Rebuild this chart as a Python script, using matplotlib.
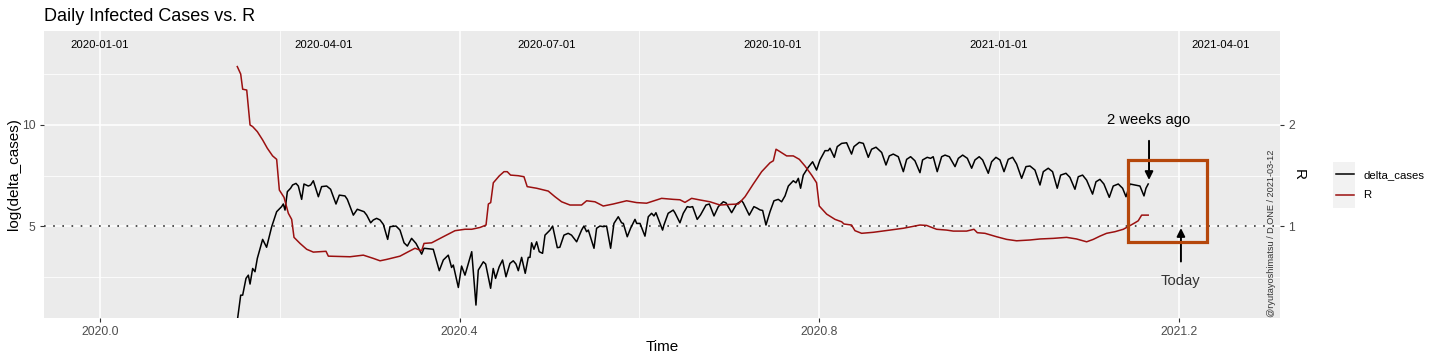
import matplotlib
matplotlib.use("Agg")
import matplotlib.pyplot as plt
from matplotlib.lines import Line2D
from matplotlib.patches import Rectangle

plt.rcParams['font.family'] = ['Liberation Sans', 'DejaVu Sans']

# daily infected cases (log), time as decimal year
case_t = [
    2020.1527, 2020.1565, 2020.1587, 2020.1624, 2020.1650, 2020.1669, 2020.1698, 2020.1724,
    2020.1750, 2020.1809, 2020.1853, 2020.1910, 2020.1965, 2020.2020, 2020.2039, 2020.2058,
    2020.2084, 2020.2120, 2020.2142, 2020.2180, 2020.2206, 2020.2243, 2020.2269, 2020.2317,
    2020.2343, 2020.2373, 2020.2429, 2020.2465, 2020.2521, 2020.2565, 2020.2625, 2020.2662,
    2020.2725, 2020.2751, 2020.2818, 2020.2862, 2020.2937, 2020.2967, 2020.3011, 2020.3040,
    2020.3077, 2020.3115, 2020.3152, 2020.3200, 2020.3226, 2020.3293, 2020.3337, 2020.3382,
    2020.3419, 2020.3466, 2020.3515, 2020.3578, 2020.3604, 2020.3707, 2020.3774, 2020.3819,
    2020.3874, 2020.3911, 2020.3930, 2020.3986, 2020.4022, 2020.4060, 2020.4135, 2020.4182,
    2020.4208, 2020.4264, 2020.4290, 2020.4345, 2020.4374, 2020.4400, 2020.4440, 2020.4478,
    2020.4516, 2020.4560, 2020.4597, 2020.4627, 2020.4653, 2020.4690, 2020.4730, 2020.4764,
    2020.4783, 2020.4801, 2020.4827, 2020.4857, 2020.4886, 2020.4923, 2020.4950, 2020.5006,
    2020.5035, 2020.5087, 2020.5115, 2020.5161, 2020.5208, 2020.5245, 2020.5302, 2020.5357,
    2020.5383, 2020.5413, 2020.5432, 2020.5495, 2020.5524, 2020.5561, 2020.5598, 2020.5635,
    2020.5680, 2020.5717, 2020.5765, 2020.5802, 2020.5821, 2020.5865, 2020.5902, 2020.5951,
    2020.5970, 2020.6007, 2020.6062, 2020.6099, 2020.6136, 2020.6162, 2020.6184, 2020.6229,
    2020.6258, 2020.6273, 2020.6320, 2020.6376, 2020.6395, 2020.6451, 2020.6488, 2020.6532,
    2020.6562, 2020.6592, 2020.6643, 2020.6680, 2020.6741, 2020.6778, 2020.6830, 2020.6878,
    2020.6933, 2020.6963, 2020.7026, 2020.7081, 2020.7137, 2020.7155, 2020.7222, 2020.7274,
    2020.7311, 2020.7341, 2020.7371, 2020.7408, 2020.7453, 2020.7497, 2020.7545, 2020.7582,
    2020.7620, 2020.7657, 2020.7712, 2020.7742, 2020.7768, 2020.7793, 2020.7823, 2020.7879,
    2020.7927, 2020.7971, 2020.8009, 2020.8065, 2020.8101, 2020.8120, 2020.8168, 2020.8201,
    2020.8250, 2020.8305, 2020.8360, 2020.8387, 2020.8446, 2020.8491, 2020.8546, 2020.8583,
    2020.8632, 2020.8695, 2020.8743, 2020.8780, 2020.8824, 2020.8880, 2020.8936, 2020.8973,
    2020.9017, 2020.9065, 2020.9121, 2020.9150, 2020.9202, 2020.9239, 2020.9268, 2020.9313,
    2020.9362, 2020.9400, 2020.9448, 2020.9511, 2020.9548, 2020.9596, 2020.9648, 2020.9696,
    2020.9733, 2020.9780, 2020.9818, 2020.9881, 2020.9918, 2020.9966, 2021.0011, 2021.0056,
    2021.0103, 2021.0152, 2021.0196, 2021.0252, 2021.0300, 2021.0345, 2021.0400, 2021.0456,
    2021.0493, 2021.0548, 2021.0596, 2021.0648, 2021.0686, 2021.0745, 2021.0789, 2021.0845,
    2021.0882, 2021.0930, 2021.0975, 2021.1041, 2021.1079, 2021.1123, 2021.1167, 2021.1227,
    2021.1271, 2021.1327, 2021.1375, 2021.1413, 2021.1457, 2021.1513, 2021.1568, 2021.1613,
    2021.1635, 2021.1660,
]
log_cases = [
    0.30, 1.58, 1.58, 2.41, 2.57, 2.13, 2.90, 2.74,
    3.40, 4.34, 3.95, 4.97, 5.71, 5.96, 6.09, 5.79,
    6.70, 6.87, 7.03, 7.11, 6.98, 6.32, 7.08, 6.98,
    7.03, 7.24, 6.45, 6.95, 6.98, 6.82, 6.09, 6.53,
    6.49, 6.32, 5.54, 5.83, 5.71, 5.54, 5.16, 5.30,
    5.38, 5.30, 5.08, 4.34, 4.97, 5.00, 4.80, 4.17,
    4.01, 4.39, 4.14, 3.61, 3.90, 3.85, 2.79, 3.32,
    3.56, 2.95, 3.07, 1.96, 3.02, 2.57, 3.73, 1.09,
    2.82, 3.23, 3.12, 1.92, 2.90, 2.41, 2.98, 3.32,
    2.49, 3.15, 3.28, 3.12, 2.79, 3.45, 2.66, 3.45,
    3.45, 4.17, 3.85, 4.22, 3.73, 3.65, 4.55, 4.80,
    5.00, 3.93, 3.95, 4.55, 4.64, 4.55, 4.22, 4.80,
    5.00, 4.72, 4.80, 3.90, 4.89, 5.00, 4.97, 5.00,
    3.90, 5.13, 5.46, 5.16, 5.13, 4.47, 4.89, 5.33,
    5.13, 5.13, 4.50, 5.46, 5.63, 5.50, 5.66, 5.13,
    4.80, 5.05, 5.63, 5.79, 5.66, 5.16, 5.63, 5.96,
    5.93, 5.96, 5.33, 5.55, 6.04, 6.09, 5.50, 5.96,
    6.20, 6.15, 5.66, 6.09, 6.25, 6.15, 5.54, 5.96,
    5.88, 5.80, 5.77, 5.05, 5.71, 6.25, 6.32, 6.20,
    6.49, 6.98, 7.24, 7.14, 7.36, 6.87, 7.52, 7.91,
    8.18, 7.77, 8.27, 8.73, 8.73, 8.85, 8.40, 8.93,
    9.09, 9.12, 8.56, 8.93, 9.14, 9.09, 8.40, 8.80,
    8.90, 8.64, 8.02, 8.47, 8.56, 8.43, 7.69, 8.30,
    8.43, 8.23, 7.64, 8.27, 8.40, 8.35, 8.43, 7.69,
    8.43, 8.51, 8.43, 7.94, 8.35, 8.51, 8.35, 7.86,
    8.27, 8.43, 8.27, 7.61, 8.18, 8.40, 8.27, 7.69,
    8.30, 8.40, 8.07, 7.36, 7.94, 7.97, 7.77, 7.03,
    7.69, 7.86, 7.69, 6.87, 7.52, 7.61, 7.41, 6.82,
    7.44, 7.52, 7.27, 6.58, 7.19, 7.31, 7.08, 6.42,
    6.98, 7.08, 6.87, 6.45, 7.08, 7.03, 6.98, 6.49,
    6.87, 7.08,
]

# effective reproduction number R
r_t = [
    2020.1527, 2020.1565, 2020.1587, 2020.1632, 2020.1669, 2020.1698, 2020.1750, 2020.1809,
    2020.1861, 2020.1920, 2020.1965, 2020.1995, 2020.2047, 2020.2095, 2020.2132, 2020.2158,
    2020.2225, 2020.2299, 2020.2373, 2020.2514, 2020.2540, 2020.2781, 2020.2929, 2020.3040,
    2020.3115, 2020.3190, 2020.3337, 2020.3430, 2020.3504, 2020.3578, 2020.3604, 2020.3689,
    2020.3818, 2020.3949, 2020.4060, 2020.4135, 2020.4227, 2020.4294, 2020.4320, 2020.4346,
    2020.4375, 2020.4441, 2020.4494, 2020.4530, 2020.4567, 2020.4653, 2020.4716, 2020.4752,
    2020.4857, 2020.4986, 2020.5061, 2020.5135, 2020.5228, 2020.5357, 2020.5413, 2020.5506,
    2020.5598, 2020.5709, 2020.5858, 2020.5969, 2020.6080, 2020.6247, 2020.6376, 2020.6451,
    2020.6507, 2020.6581, 2020.6674, 2020.6785, 2020.6897, 2020.7008, 2020.7101, 2020.7175,
    2020.7267, 2020.7360, 2020.7453, 2020.7490, 2020.7520, 2020.7564, 2020.7638, 2020.7712,
    2020.7779, 2020.7842, 2020.7916, 2020.7971, 2020.8001, 2020.8083, 2020.8176, 2020.8250,
    2020.8276, 2020.8360, 2020.8398, 2020.8472, 2020.8602, 2020.8787, 2020.8936, 2020.9121,
    2020.9195, 2020.9306, 2020.9417, 2020.9492, 2020.9640, 2020.9722, 2020.9759, 2020.9844,
    2020.9974, 2021.0085, 2021.0196, 2021.0345, 2021.0456, 2021.0604, 2021.0752, 2021.0863,
    2021.0975, 2021.1049, 2021.1123, 2021.1197, 2021.1290, 2021.1383, 2021.1457, 2021.1512,
    2021.1549, 2021.1587, 2021.1660,
]
r_value = [
    2.578, 2.504, 2.354, 2.346, 2.000, 1.984, 1.934, 1.852,
    1.770, 1.694, 1.660, 1.356, 1.284, 1.126, 1.066, 0.888,
    0.828, 0.770, 0.742, 0.750, 0.702, 0.696, 0.712, 0.680,
    0.656, 0.670, 0.702, 0.746, 0.780, 0.756, 0.828, 0.834,
    0.894, 0.954, 0.968, 0.968, 0.986, 1.010, 1.218, 1.232,
    1.428, 1.496, 1.538, 1.538, 1.504, 1.498, 1.488, 1.390,
    1.374, 1.346, 1.290, 1.240, 1.208, 1.208, 1.250, 1.240,
    1.198, 1.218, 1.250, 1.232, 1.226, 1.274, 1.264, 1.260,
    1.234, 1.274, 1.258, 1.240, 1.208, 1.214, 1.218, 1.290,
    1.416, 1.538, 1.626, 1.646, 1.760, 1.736, 1.694, 1.694,
    1.660, 1.594, 1.504, 1.428, 1.198, 1.118, 1.066, 1.042,
    1.020, 1.010, 0.954, 0.928, 0.938, 0.960, 0.978, 1.010,
    1.006, 0.968, 0.960, 0.950, 0.950, 0.968, 0.934, 0.928,
    0.894, 0.868, 0.854, 0.862, 0.872, 0.878, 0.888, 0.872,
    0.844, 0.868, 0.900, 0.928, 0.944, 0.968, 1.004, 1.032,
    1.052, 1.108, 1.108,
]

r_scale = 5  # R is drawn on the log axis as R * 5

date_labels = ["2020-01-01", "2020-04-01", "2020-07-01", "2020-10-01", "2021-01-01", "2021-04-01"]
date_pos = [2020.0, 2020.2486, 2020.4973, 2020.7486, 2021.0, 2021.2466]

two_weeks_ago = 2021.1669
today = 2021.2024

fig = plt.figure(figsize=(14.4, 3.6), dpi=100)
ax = fig.add_axes([44 / 1440, 42 / 360, 1236 / 1440, 287 / 360])
ax.set_facecolor('#EBEBEB')
for s in ax.spines.values():
    s.set_visible(False)

ax.set_xlim(2019.9377, 2021.3126)
ax.set_ylim(0.45, 14.65)
ax.set_xticks([2020.0, 2020.4, 2020.8, 2021.2])
ax.set_xticklabels(["2020.0", "2020.4", "2020.8", "2021.2"])
ax.set_xticks([2020.2, 2020.6, 2021.0], minor=True)
ax.set_yticks([5, 10])
ax.set_yticks([2.5, 7.5, 12.5], minor=True)
ax.grid(which='major', color='white', lw=1.1)
ax.grid(which='minor', color='white', lw=0.55)
ax.set_axisbelow(True)
ax.tick_params(which='major', length=3, color='#333333', labelcolor='#4D4D4D',
               labelsize=8.8, pad=3)
ax.tick_params(which='minor', length=0)

ax.axhline(5, color='#333333', lw=1.2, ls=(0, (1, 4.5)))

ax.plot(case_t, log_cases, color='black', lw=1.1)
ax.plot(r_t, [v * r_scale for v in r_value], color='#9B1010', lw=1.1)

for lab, x in zip(date_labels, date_pos):
    ax.text(x, 13.96, lab, ha='center', va='center', fontsize=8.2)

ax.add_patch(Rectangle((2021.1435, 4.21), 0.0879, 4.06, fill=False,
                       edgecolor='#B5470B', lw=2.3, zorder=5))

ax.annotate("2 weeks ago", xy=(two_weeks_ago, 7.28), xytext=(two_weeks_ago, 10.25),
            ha='center', va='center', fontsize=10.6,
            arrowprops=dict(arrowstyle='-|>', color='black', lw=1.4,
                            mutation_scale=12, shrinkA=8, shrinkB=0))
ax.annotate("Today", xy=(today, 4.9), xytext=(today, 2.28),
            ha='center', va='center', fontsize=10.6, color='#333333',
            arrowprops=dict(arrowstyle='-|>', color='black', lw=1.4,
                            mutation_scale=12, shrinkA=7, shrinkB=0))

ax.text(2021.3037, 0.5, "@ryutayoshimatsu / D ONE / 2021-03-12", rotation=90,
        ha='center', va='bottom', fontsize=6.6, color='#333333')

ax.set_xlabel("Time", fontsize=11, labelpad=1)
ax.set_ylabel("log(delta_cases)", fontsize=11, labelpad=1)
ax.set_title("Daily Infected Cases vs. R", loc='left', fontsize=13, pad=7)

sec = ax.secondary_yaxis('right', functions=(lambda y: y / r_scale, lambda r: r * r_scale))
sec.set_yticks([1, 2])
sec.spines['right'].set_visible(False)
sec.tick_params(length=3, color='#333333', labelcolor='#4D4D4D', labelsize=8.8, pad=3)
sec.set_ylabel("R", rotation=270, fontsize=11, labelpad=8)

# legend
fig.patches.append(Rectangle((1333 / 1440, (360 - 208) / 360), 22 / 1440, 46 / 360,
                             transform=fig.transFigure, facecolor='#F2F2F2',
                             edgecolor='none', figure=fig))
handles = [Line2D([], [], color='black', lw=1.1), Line2D([], [], color='#9B1010', lw=1.1)]
fig.legend(handles, ["delta_cases", "R"], loc='upper left',
           bbox_to_anchor=(1326 / 1440, (360 - 160) / 360), frameon=False,
           fontsize=8.2, handlelength=1.6, labelspacing=0.9, handletextpad=0.8)

fig.savefig("out.png", dpi=100)
